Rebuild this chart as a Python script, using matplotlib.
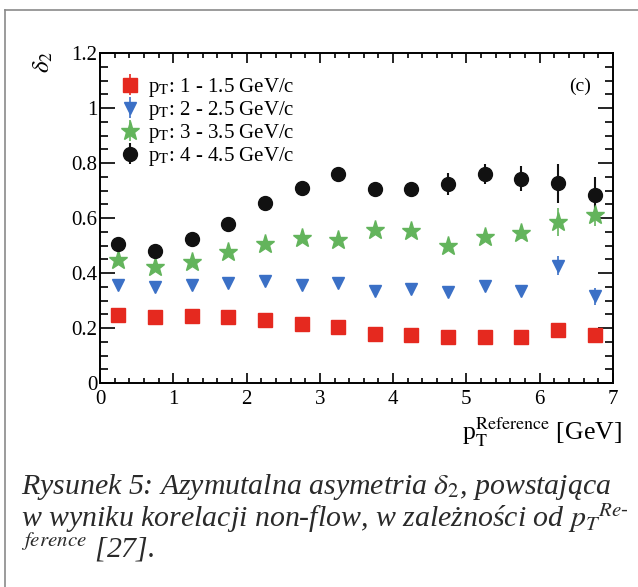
import matplotlib.pyplot as plt
import numpy as np
from matplotlib.ticker import MultipleLocator

plt.rcParams['font.family'] = ['Liberation Serif', 'DejaVu Serif']
plt.rcParams['mathtext.fontset'] = 'stix'

# dane
pt_ref = [0.25, 0.75, 1.25, 1.75, 2.25, 2.75, 3.25,
          3.75, 4.25, 4.75, 5.25, 5.75, 6.25, 6.75]

d2_1 = [0.249, 0.240, 0.244, 0.240, 0.228, 0.216, 0.204,
        0.177, 0.173, 0.167, 0.169, 0.167, 0.191, 0.175]
e2_1 = [0.005, 0.005, 0.005, 0.005, 0.005, 0.005, 0.006,
        0.006, 0.007, 0.008, 0.009, 0.010, 0.012, 0.014]

d2_2 = [0.358, 0.349, 0.358, 0.364, 0.370, 0.358, 0.362,
        0.333, 0.342, 0.330, 0.352, 0.333, 0.426, 0.315]
e2_2 = [0.006, 0.006, 0.006, 0.007, 0.007, 0.008, 0.009,
        0.010, 0.011, 0.012, 0.013, 0.015, 0.035, 0.030]

d2_3 = [0.448, 0.423, 0.441, 0.478, 0.506, 0.527, 0.521,
        0.556, 0.552, 0.498, 0.531, 0.547, 0.586, 0.611]
e2_3 = [0.008, 0.008, 0.008, 0.009, 0.010, 0.011, 0.012,
        0.014, 0.016, 0.018, 0.020, 0.024, 0.050, 0.040]

d2_4 = [0.506, 0.479, 0.525, 0.580, 0.656, 0.710, 0.759,
        0.704, 0.706, 0.725, 0.759, 0.743, 0.726, 0.685]
e2_4 = [0.010, 0.010, 0.010, 0.011, 0.012, 0.014, 0.016,
        0.020, 0.025, 0.040, 0.037, 0.045, 0.070, 0.065]

labels = [r"p$_\mathrm{T}$: 1 - 1.5 GeV/c", r"p$_\mathrm{T}$: 2 - 2.5 GeV/c",
          r"p$_\mathrm{T}$: 3 - 3.5 GeV/c", r"p$_\mathrm{T}$: 4 - 4.5 GeV/c"]
xticks = [0, 1, 2, 3, 4, 5, 6, 7]
yticks = [0, 0.2, 0.4, 0.6, 0.8, 1.0, 1.2]
ytick_labels = ["0", "0.2", "0.4", "0.6", "0.8", "1", "1.2"]

fig = plt.figure(figsize=(6.38, 5.87), dpi=100)
ax = fig.add_axes([100 / 638, 1 - 383 / 587, 513 / 638, 330 / 587])

ax.errorbar(pt_ref, d2_1, yerr=e2_1, fmt='s', ms=9.5, color='#e5291f',
            ecolor='#e5291f', elinewidth=1.2, capsize=0, label=labels[0])
ax.errorbar(pt_ref, d2_2, yerr=e2_2, fmt='v', ms=8, color='#3b70c6',
            ecolor='#3b70c6', elinewidth=1.2, capsize=0, label=labels[1])
ax.errorbar(pt_ref, d2_3, yerr=e2_3, fmt='*', ms=14, color='#63b45c',
            ecolor='#63b45c', elinewidth=1.2, capsize=0, label=labels[2])
ax.errorbar(pt_ref, d2_4, yerr=e2_4, fmt='o', ms=10, color='#111111',
            ecolor='#111111', elinewidth=1.5, capsize=0, label=labels[3])

ax.set_xlim(0, 7)
ax.set_ylim(0, 1.2)
ax.set_xticks(xticks)
ax.set_yticks(yticks)
ax.set_yticklabels(ytick_labels)
ax.xaxis.set_minor_locator(MultipleLocator(0.2))
ax.yaxis.set_minor_locator(MultipleLocator(0.05))
ax.tick_params(which='both', direction='in', top=True, right=True,
               labelsize=15, width=1.2)
ax.tick_params(axis='x', which='major', length=7, pad=5)
ax.tick_params(axis='x', which='minor', length=3.5)
ax.tick_params(axis='y', which='major', length=11, pad=2)
ax.tick_params(axis='y', which='minor', length=5.5)
for s in ax.spines.values():
    s.set_linewidth(1.4)

ax.legend(loc='upper left', bbox_to_anchor=(0.0, 0.975), frameon=False,
          fontsize=15, handletextpad=0.1, labelspacing=0.0,
          borderaxespad=0.3, handlelength=1.5, numpoints=1)

ax.text(0.935, 0.9, "(c)", transform=ax.transAxes, fontsize=14,
        ha='center', va='center')

# opisy osi w stylu ROOT
fig.text(43 / 638, 1 - 62 / 587, r"$\delta_2$", rotation=90,
         fontsize=18, ha='center', va='center')
fig.text(622 / 638, 1 - 440 / 587,
         r"p$_\mathrm{T}^\mathrm{Reference}$ [GeV]",
         fontsize=18.5, ha='right', va='baseline')

# ramka skanu
fig.add_artist(plt.Line2D([5 / 638, 5 / 638], [0, 1 - 10 / 587],
                          color='#8a8a8a', lw=1.2))
fig.add_artist(plt.Line2D([5 / 638, 1], [1 - 10 / 587, 1 - 10 / 587],
                          color='#8a8a8a', lw=1.2))

# podpis
cap = dict(fontsize=21.5, style='italic', color='#2a2a2a', va='baseline')
fig.text(21 / 638, 1 - 494 / 587,
         r"Rysunek 5: Azymutalna asymetria $\delta_2$, powstająca", **cap)
fig.text(21 / 638, 1 - 527 / 587,
         r"w wyniku korelacji non-flow, w zależności od $p_T{}^{Re\text{-}}$",
         **cap)
fig.text(21 / 638, 1 - 558 / 587, r"$^{ference}$ [27].", **cap)

fig.savefig("out.png", dpi=100)
